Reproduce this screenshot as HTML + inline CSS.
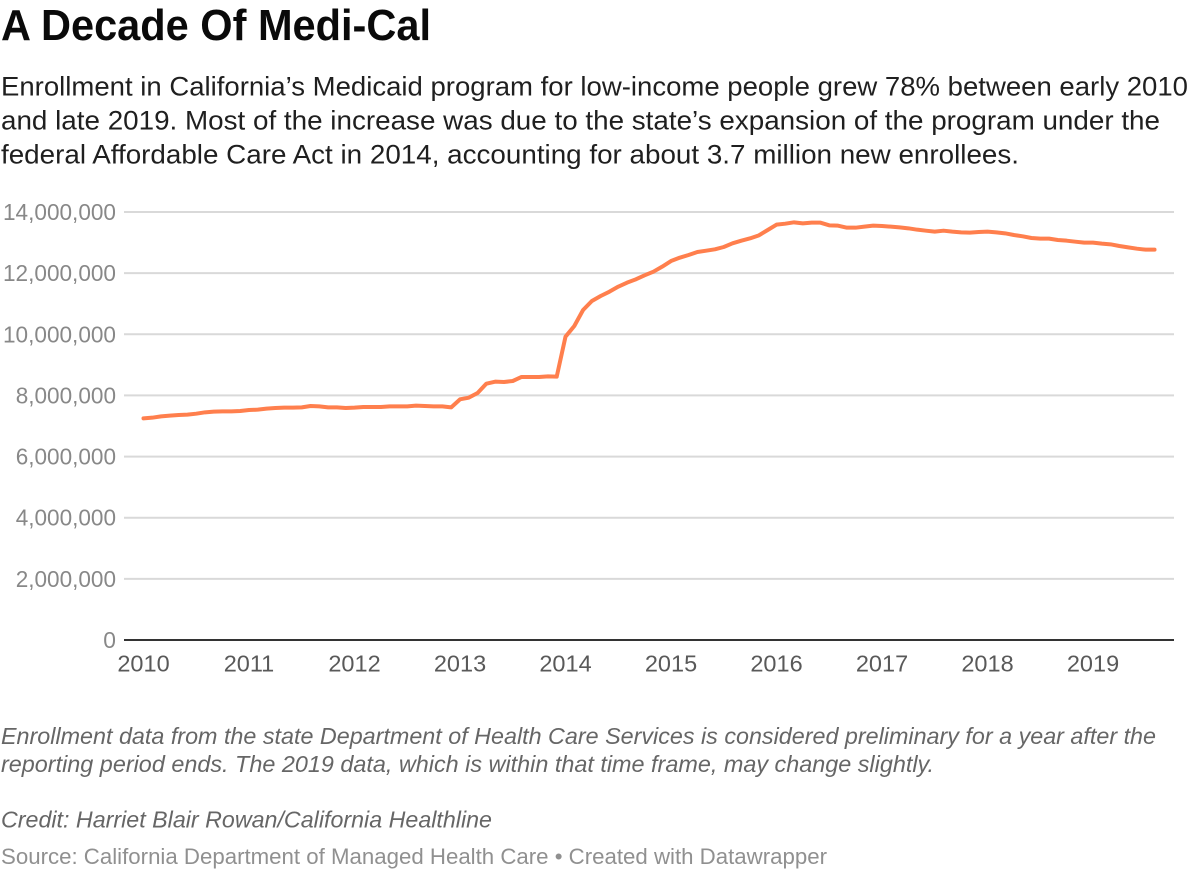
<!DOCTYPE html>
<html lang="en">
<head>
<meta charset="utf-8">
<title>A Decade Of Medi-Cal</title>
<style>
  html, body { margin: 0; padding: 0; background: #fff; }
  body { width: 1200px; height: 880px; overflow: hidden; }
  svg { display: block; font-family: "Liberation Sans", sans-serif; }
  .sub { font-size: 27px; fill: #1f1f1f; }
  .note { font-size: 23px; font-style: italic; fill: #666; }
</style>
</head>
<body>
<svg id="chart" width="1200" height="880" viewBox="0 0 1200 880" xmlns="http://www.w3.org/2000/svg">
  <text x="1" y="40" font-size="44" font-weight="700" fill="#0a0a0a" textLength="430" lengthAdjust="spacingAndGlyphs">A Decade Of Medi-Cal</text>
  <g>
    <text class="sub" x="1" y="95.5" textLength="1187" lengthAdjust="spacingAndGlyphs">Enrollment in California’s Medicaid program for low-income people grew 78% between early 2010</text>
    <text class="sub" x="1" y="129.5" textLength="1159" lengthAdjust="spacingAndGlyphs">and late 2019. Most of the increase was due to the state’s expansion of the program under the</text>
    <text class="sub" x="1" y="163.5" textLength="1018" lengthAdjust="spacingAndGlyphs">federal Affordable Care Act in 2014, accounting for about 3.7 million new enrollees.</text>
  </g>
  <g id="y-grid"></g>
  <g id="y-labels"></g>
  <g id="x-labels"></g>
  <path id="enrollment-line" fill="none" stroke="#ff7f4d" stroke-width="4" stroke-linejoin="round" stroke-linecap="round"></path>
  <g>
    <text class="note" x="1" y="744" textLength="1155" lengthAdjust="spacingAndGlyphs">Enrollment data from the state Department of Health Care Services is considered preliminary for a year after the</text>
    <text class="note" x="1" y="772" textLength="933" lengthAdjust="spacingAndGlyphs">reporting period ends. The 2019 data, which is within that time frame, may change slightly.</text>
    <text class="note" x="1" y="827.5" textLength="491" lengthAdjust="spacingAndGlyphs">Credit: Harriet Blair Rowan/California Healthline</text>
    <text x="1" y="864" font-size="22" fill="#909090" textLength="826" lengthAdjust="spacingAndGlyphs">Source: California Department of Managed Health Care • Created with Datawrapper</text>
  </g>
</svg>
<script>
// Chart data
var startYear = 2010;
var years = [2010, 2011, 2012, 2013, 2014, 2015, 2016, 2017, 2018, 2019];
var yTicks = [14000000, 12000000, 10000000, 8000000, 6000000, 4000000, 2000000, 0];
var enrollmentMillions = [
  7.251, 7.272, 7.316, 7.338, 7.360, 7.371, 7.403, 7.447, 7.469, 7.480, 7.480, 7.491,
  7.523, 7.534, 7.567, 7.589, 7.600, 7.600, 7.610, 7.654, 7.643, 7.610, 7.610, 7.589,
  7.600, 7.621, 7.621, 7.621, 7.643, 7.643, 7.643, 7.665, 7.654, 7.643, 7.643, 7.610,
  7.872, 7.927, 8.079, 8.385, 8.450, 8.439, 8.472, 8.603, 8.603, 8.603, 8.625, 8.614,
  9.922, 10.271, 10.794, 11.089, 11.252, 11.394, 11.558, 11.689, 11.797, 11.928, 12.048, 12.212,
  12.397, 12.506, 12.593, 12.691, 12.735, 12.779, 12.855, 12.975, 13.062, 13.138, 13.237, 13.411,
  13.586, 13.618, 13.662, 13.629, 13.651, 13.651, 13.564, 13.553, 13.487, 13.487, 13.520, 13.553,
  13.542, 13.520, 13.498, 13.466, 13.422, 13.389, 13.357, 13.389, 13.357, 13.335, 13.324, 13.346,
  13.357, 13.335, 13.302, 13.248, 13.204, 13.149, 13.128, 13.128, 13.084, 13.062, 13.029, 12.997,
  12.997, 12.964, 12.942, 12.888, 12.844, 12.800, 12.768, 12.768
];

// Axis functions
function xScale(yearValue) {
  return 143.5 + (yearValue - startYear) * 105.5;
}
function yScale(value) {
  return 640 - (value / 14000000) * 428;
}
var svgNS = 'http://www.w3.org/2000/svg';
var gridGroup = document.getElementById('y-grid');
var yLabelGroup = document.getElementById('y-labels');
var xLabelGroup = document.getElementById('x-labels');

yTicks.forEach(function (tick) {
  var line = document.createElementNS(svgNS, 'line');
  
  
  line.setAttribute('x1', 124);
  line.setAttribute('x2', 1174);
  line.setAttribute('y1', yScale(tick));
  line.setAttribute('y2', yScale(tick));
  line.setAttribute('stroke', tick === 0 ? '#333333' : '#d9d9d9');
  line.setAttribute('stroke-width', 2);
  gridGroup.appendChild(line);

  var label = document.createElementNS(svgNS, 'text');
  var labelText = tick.toLocaleString('en-US');
  var commaCount = labelText.split(',').length - 1;
  var digitCount = labelText.length - commaCount;
  
  
  label.setAttribute('x', 116);
  label.setAttribute('y', yScale(tick) + 8);
  label.setAttribute('text-anchor', 'end');
  label.setAttribute('font-size', '23.5');
  label.setAttribute('fill', '#888888');
  label.setAttribute('textLength', digitCount * 12.7 + commaCount * 5.7);
  label.setAttribute('lengthAdjust', 'spacingAndGlyphs');
  label.textContent = labelText;
  yLabelGroup.appendChild(label);
});

years.forEach(function (year) {
  var label = document.createElementNS(svgNS, 'text');
  
  
  label.setAttribute('x', xScale(year));
  label.setAttribute('y', 671.5);
  label.setAttribute('text-anchor', 'middle');
  label.setAttribute('font-size', '23.5');
  label.setAttribute('fill', '#595959');
  label.textContent = String(year);
  xLabelGroup.appendChild(label);
});

var pathData = enrollmentMillions.map(function (value, i) {
  var px = xScale(startYear + i / 12);
  var py = yScale(value * 1000000);
  return (i === 0 ? 'M' : 'L') + px.toFixed(2) + ' ' + py.toFixed(2);
}).join(' ');
document.getElementById('enrollment-line').setAttribute('d', pathData);
</script>
</body>
</html>
